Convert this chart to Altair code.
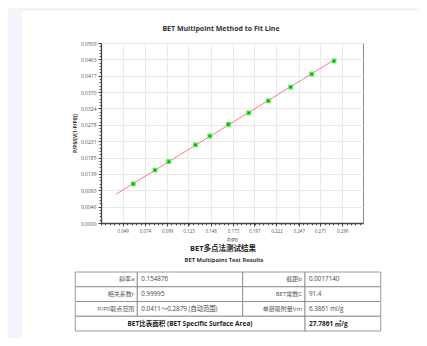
import altair as alt
import pandas as pd

# ---- data ----
p_rel = [0.0609, 0.0853, 0.1008, 0.1308, 0.1470, 0.1679, 0.1908, 0.2128, 0.2380, 0.2616, 0.2867]
bet_y = [0.01108, 0.01494, 0.01736, 0.02207, 0.02460, 0.02790, 0.03117, 0.03455, 0.03841, 0.04207, 0.04582]
fit_x = [0.0411, 0.2879]
fit_y = [0.00808, 0.04630]

x_ticks = [0.049, 0.074, 0.099, 0.123, 0.148, 0.173, 0.197, 0.222, 0.247, 0.271, 0.296]
y_ticks = [0.0, 0.0046, 0.0093, 0.0139, 0.0185, 0.0231, 0.0278, 0.0324, 0.0370, 0.0417, 0.0463, 0.0509]

chart_title = "BET Multipoint Method to Fit Line"
x_title = "P/P0"
y_title = "P/P0/[V(1-P/P0)]"
table_title_cn = "BET多点法测试结果"
table_title_en = "BET Multipoint Test Results"

labels_a = ["斜率a", "相关系数r", "P/P0取点范围"]
values_a = ["0.154876", "0.99995", "0.0411～0.2879 (自动范围)"]
labels_b = ["截距b", "BET常数C", "单层吸附量Vm"]
values_b = ["0.0017140", "91.4", "6.3861 ml/g"]
summary_label = "BET比表面积  (BET Specific Surface Area)"
summary_value = "27.7861 ㎡/g"

FONT = "Open Sans, Noto Sans CJK SC, sans-serif"
X_DOMAIN = [0.0246, 0.3193]
Y_DOMAIN = [0.0, 0.0509]

pts = pd.DataFrame({"x": p_rel, "y": bet_y})
fit = pd.DataFrame({"x": fit_x, "y": fit_y})

xs = alt.Scale(domain=X_DOMAIN, nice=False, zero=False)
ys = alt.Scale(domain=Y_DOMAIN, nice=False, zero=False)

x_axis = alt.Axis(values=x_ticks, format=".3f", title=x_title, grid=True, orient="bottom",
                  labelFontSize=4.5, labelColor="#555", tickSize=3, labelPadding=2,
                  titleFontSize=5, titleFontWeight="normal", titleColor="#333", titlePadding=5)
y_axis = alt.Axis(values=y_ticks, format=".4f", title=y_title, grid=True, orient="left",
                  labelFontSize=5, labelColor="#555", tickSize=3, labelPadding=2,
                  titleFontSize=5, titleFontWeight="bold", titleColor="#333", titlePadding=3)

line = alt.Chart(fit).mark_line(color="#ff6464", strokeWidth=1, opacity=0.85).encode(
    x=alt.X("x:Q", scale=xs, axis=x_axis),
    y=alt.Y("y:Q", scale=ys, axis=y_axis),
)
points = alt.Chart(pts).mark_square(size=12, fill="#109a10", stroke="#40f040",
                                    strokeWidth=1.3, opacity=1).encode(
    x=alt.X("x:Q", scale=xs, axis=None),
    y=alt.Y("y:Q", scale=ys, axis=None),
)

minor_x = [round(k * 0.0049324, 5) for k in range(5, 65)]
minor_y = [round(k * 0.0509 / 55, 6) for k in range(0, 56)]
minor = alt.Chart(pts).mark_point(opacity=0).encode(
    x=alt.X("x:Q", scale=xs, axis=alt.Axis(values=minor_x, labels=False, grid=False, domain=False,
                                            tickSize=1.8, title=None, orient="bottom", tickColor="#444")),
    y=alt.Y("y:Q", scale=ys, axis=alt.Axis(values=minor_y, labels=False, grid=False, domain=False,
                                            tickSize=1.8, title=None, orient="left", tickColor="#444")),
)
plot = alt.layer(line, points, minor).resolve_axis(x="independent", y="independent")

# ---- table ----
COLS = alt.Scale(domain=[0, 1, 2, 3, 4], range=[-25.7, 36.3, 141.7, 204, 279.7])
ROWS = alt.Scale(domain=[0, 4], range=[229, 288])

cell_rows = []
for r in range(3):
    for c in range(4):
        cell_rows.append({"r0": r, "r1": r + 1, "c0": c, "c1": c + 1})
cell_rows.append({"r0": 3, "r1": 4, "c0": 0, "c1": 3})
cell_rows.append({"r0": 3, "r1": 4, "c0": 3, "c1": 4})
cells = pd.DataFrame(cell_rows)

rects = alt.Chart(cells).mark_rect(fill="white", stroke="#8c8c8c", strokeWidth=0.9).encode(
    x=alt.X("c0:Q", scale=COLS, axis=None), x2="c1:Q",
    y=alt.Y("r0:Q", scale=ROWS, axis=None), y2="r1:Q",
)

lab_df = pd.DataFrame({"t": labels_a + labels_b,
                       "c": [1] * 3 + [3] * 3,
                       "r": [0.5, 1.5, 2.5] * 2})
val_df = pd.DataFrame({"t": values_a + values_b,
                       "c": [1] * 3 + [3] * 3,
                       "r": [0.5, 1.5, 2.5] * 2})

labs = alt.Chart(lab_df).mark_text(align="right", baseline="middle", dx=-3, fontSize=6,
                                   font=FONT, color="#555").encode(
    x=alt.X("c:Q", scale=COLS, axis=None), y=alt.Y("r:Q", scale=ROWS, axis=None), text="t:N")
vals = alt.Chart(val_df).mark_text(align="left", baseline="middle", dx=4, fontSize=6.3,
                                   font=FONT, color="#444").encode(
    x=alt.X("c:Q", scale=COLS, axis=None), y=alt.Y("r:Q", scale=ROWS, axis=None), text="t:N")

sum_lab = alt.Chart(pd.DataFrame({"t": [summary_label], "c": [1.5], "r": [3.5]})).mark_text(
    align="center", baseline="middle", fontSize=6.5, fontWeight="bold", font=FONT, color="#222").encode(
    x=alt.X("c:Q", scale=COLS, axis=None), y=alt.Y("r:Q", scale=ROWS, axis=None), text="t:N")
sum_val = alt.Chart(pd.DataFrame({"t": [summary_value], "c": [3], "r": [3.5]})).mark_text(
    align="left", baseline="middle", dx=4, fontSize=6.5, fontWeight="bold", font=FONT, color="#222").encode(
    x=alt.X("c:Q", scale=COLS, axis=None), y=alt.Y("r:Q", scale=ROWS, axis=None), text="t:N")

table = alt.layer(rects, labs, vals, sum_lab, sum_val)

# ---- headings ----
head_title = alt.Chart(pd.DataFrame({"t": [chart_title]})).mark_text(
    align="center", baseline="middle", fontSize=7, fontWeight="bold", font=FONT, color="#333").encode(
    x=alt.value(120), y=alt.value(-14), text="t:N")
head_cn = alt.Chart(pd.DataFrame({"t": [table_title_cn]})).mark_text(
    align="center", baseline="middle", fontSize=7.5, fontWeight="bold", font=FONT, color="#222").encode(
    x=alt.value(122), y=alt.value(206), text="t:N")
head_en = alt.Chart(pd.DataFrame({"t": [table_title_en]})).mark_text(
    align="center", baseline="middle", fontSize=5.8, fontWeight="bold", font=FONT, color="#333").encode(
    x=alt.value(123), y=alt.value(216.5), text="t:N")

# ---- page backdrop strips (light blue around the card) ----
one = pd.DataFrame({"k": [0]})
strip_left = alt.Chart(one).mark_rect(fill="#f2f6fa").encode(
    x=alt.value(-93), x2=alt.value(-79), y=alt.value(-35), y2=alt.value(300))
strip_top = alt.Chart(one).mark_rect(fill="#f2f6fa").encode(
    x=alt.value(-93), x2=alt.value(330), y=alt.value(-35), y2=alt.value(-32))

chart = alt.layer(strip_left, strip_top, plot, table, head_title, head_cn, head_en).resolve_scale(
    x="independent", y="independent"
).properties(
    width=262, height=180,
    autosize=alt.AutoSizeParams(type="none"),
    padding={"left": 93, "top": 35, "right": 56, "bottom": 115},
    background="white",
).configure_view(
    stroke="#8a8a8a", strokeWidth=1
).configure_axis(
    gridColor="#e9e9e9", gridWidth=1, domainColor="#444", domainWidth=1.3,
    tickColor="#444", labelFont=FONT, titleFont=FONT
)

chart.save("out.html", embed_options={"renderer": "svg", "actions": False})
